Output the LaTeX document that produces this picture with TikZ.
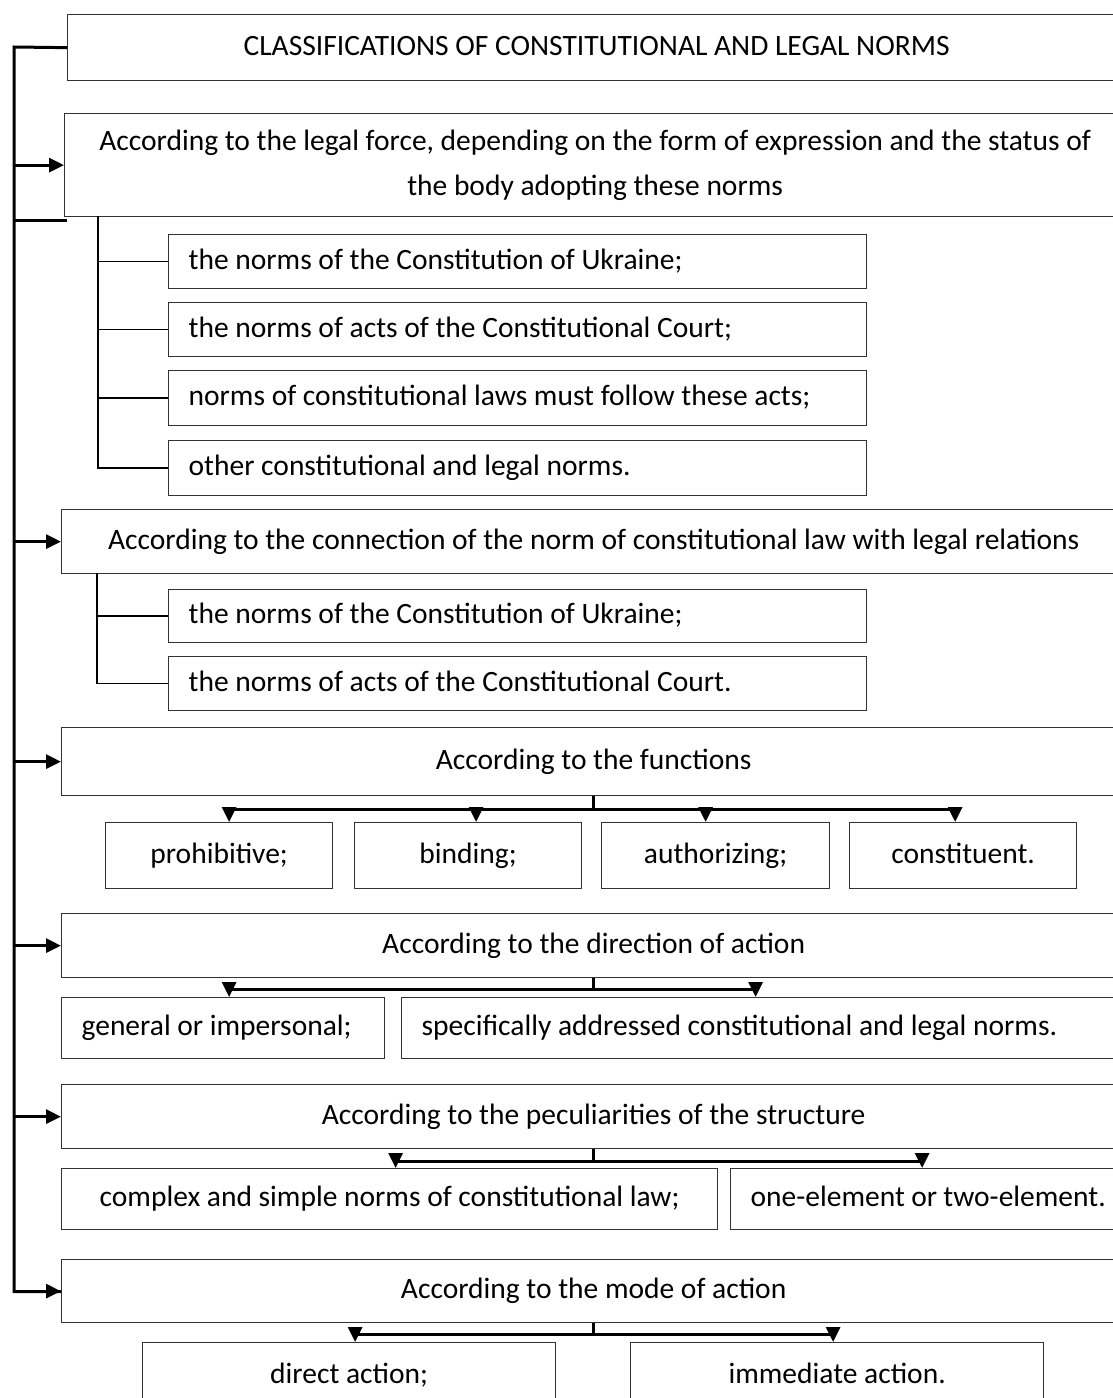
\documentclass[tikz,border=0pt]{standalone}
\usepackage{fontspec}
\setmainfont{Carlito}
\usetikzlibrary{arrows.meta,calc}
\begin{document}
\begin{tikzpicture}[x=1pt,y=-1pt,
  bx0/.style={draw=black!80,line width=1.3pt,inner sep=0pt,anchor=north west,font=\fontsize{29.5pt}{36pt}\selectfont},
  bx/.style={bx0,text height=21pt,text depth=6pt},
  lbx/.style={bx,align=flush left,inner xsep=20pt},
  conn/.style={line width=3pt,black},
  arr/.style={conn,-{Triangle[length=15pt,width=14pt]}},
  thinl/.style={line width=1.4pt,black}]
\useasboundingbox (0,0) rectangle (1113,1398);
\clip (0,0) rectangle (1113,1398);
% top and main boxes
\node[bx,minimum width=1058pt,minimum height=66pt] (t) at (67,14) {CLASSIFICATIONS OF CONSTITUTIONAL AND LEGAL NORMS};
\node[bx0,minimum width=1061pt,minimum height=103pt,align=center,font=\fontsize{29.5pt}{45pt}\selectfont] (b1) at (64,113) {According to the legal force, depending on the form of expression and the status of\\the body adopting these norms};
\node[lbx,text width=658pt,minimum height=54pt] (a1) at (168,234) {the norms of the Constitution of Ukraine;};
\node[lbx,text width=658pt,minimum height=54pt] (a2) at (168,302) {the norms of acts of the Constitutional Court;};
\node[lbx,text width=658pt,minimum height=55pt] (a3) at (168,370) {norms of constitutional laws must follow these acts;};
\node[lbx,text width=658pt,minimum height=55pt] (a4) at (168,440) {other constitutional and legal norms.};
\node[bx,minimum width=1064pt,minimum height=64pt] (b2) at (61,509) {According to the connection of the norm of constitutional law with legal relations};
\node[lbx,text width=658pt,minimum height=53pt] (c1) at (168,589) {the norms of the Constitution of Ukraine;};
\node[lbx,text width=658pt,minimum height=54pt] (c2) at (168,656) {the norms of acts of the Constitutional Court.};
\node[bx,minimum width=1064pt,minimum height=68pt] (b3) at (61,727) {According to the functions};
\node[bx,minimum width=227pt,minimum height=66pt] (f1) at (105,822) {prohibitive;};
\node[bx,minimum width=227pt,minimum height=66pt] (f2) at (354,822) {binding;};
\node[bx,minimum width=228pt,minimum height=66pt] (f3) at (601,822) {authorizing;};
\node[bx,minimum width=227pt,minimum height=66pt] (f4) at (849,822) {constituent.};
\node[bx,minimum width=1064pt,minimum height=64pt] (b4) at (61,913) {According to the direction of action};
\node[lbx,text width=283pt,minimum height=61pt] (d1) at (61,997) {general or impersonal;};
\node[lbx,text width=684pt,minimum height=61pt] (d2) at (401,997) {specifically addressed constitutional and legal norms.};
\node[bx,minimum width=1064pt,minimum height=64pt] (b5) at (61,1084) {According to the peculiarities of the structure};
\node[bx,minimum width=656pt,minimum height=61pt] (e1) at (61,1168) {complex and simple norms of constitutional law;};
\node[lbx,text width=355pt,minimum height=61pt] (e2) at (730,1168) {one-element or two-element.};
\node[bx,minimum width=1064pt,minimum height=63pt] (b6) at (61,1259) {According to the mode of action};
\node[bx,minimum width=413pt,minimum height=66pt] (g1) at (142,1342) {direct action;};
\node[bx,minimum width=413pt,minimum height=66pt] (g2) at (630,1342) {immediate action.};
% spine
\coordinate (sp) at (14,47);
\coordinate (stub) at (14,220);
\draw[conn] (t.west) -- (sp) |- ([yshift=-0.5pt]b6.west);
\draw[arr] (sp |- b1.west) -- (b1.west);
\draw[arr] (sp |- b2.west) -- (b2.west);
\draw[arr] (sp |- b3.west) -- (b3.west);
\draw[arr] (sp |- b4.west) -- (b4.west);
\draw[arr] (sp |- b5.west) -- (b5.west);
\draw[arr] (sp |- b6.west) -- (b6.west);
\draw[conn] (stub) -- (stub -| t.west);
% sub-lists
\coordinate (v1) at (98,216);
\draw[thinl] (v1) |- (a4.west);
\draw[thinl] (v1 |- a1.west) -- (a1.west);
\draw[thinl] (v1 |- a2.west) -- (a2.west);
\draw[thinl] (v1 |- a3.west) -- (a3.west);
\coordinate (v2) at (97,573);
\draw[thinl] (v2) |- (c2.west);
\draw[thinl] (v2 |- c1.west) -- (c1.west);
% functions
\draw[conn] (b3.south) -- ++(0,13) coordinate (h3);
\draw[conn] ([xshift=10pt]h3 -| f1.north) -- ([xshift=-8pt]h3 -| f4.north);
\foreach \n/\s in {f1/10,f2/8,f3/-10,f4/-8}{\draw[arr] ([xshift=\s pt]\n.north |- h3) -- ([xshift=\s pt]\n.north);}
% direction
\draw[conn] (b4.south) -- ++(0,11) coordinate (h4);
\draw[arr] (h4) -| ([xshift=6pt]d1.north);
\draw[arr] (h4) -| ([xshift=-8pt]d2.north);
% structure
\draw[conn] (b5.south) -- ++(0,12) coordinate (h5);
\draw[arr] (h5) -| ([xshift=6pt]e1.north);
\draw[arr] (h5) -| ([xshift=-6pt]e2.north);
% mode
\draw[conn] (b6.south) -- ++(0,11) coordinate (h6);
\draw[arr] (h6) -| ([xshift=6pt]g1.north);
\draw[arr] (h6) -| ([xshift=-4pt]g2.north);
\end{tikzpicture}
\end{document}
